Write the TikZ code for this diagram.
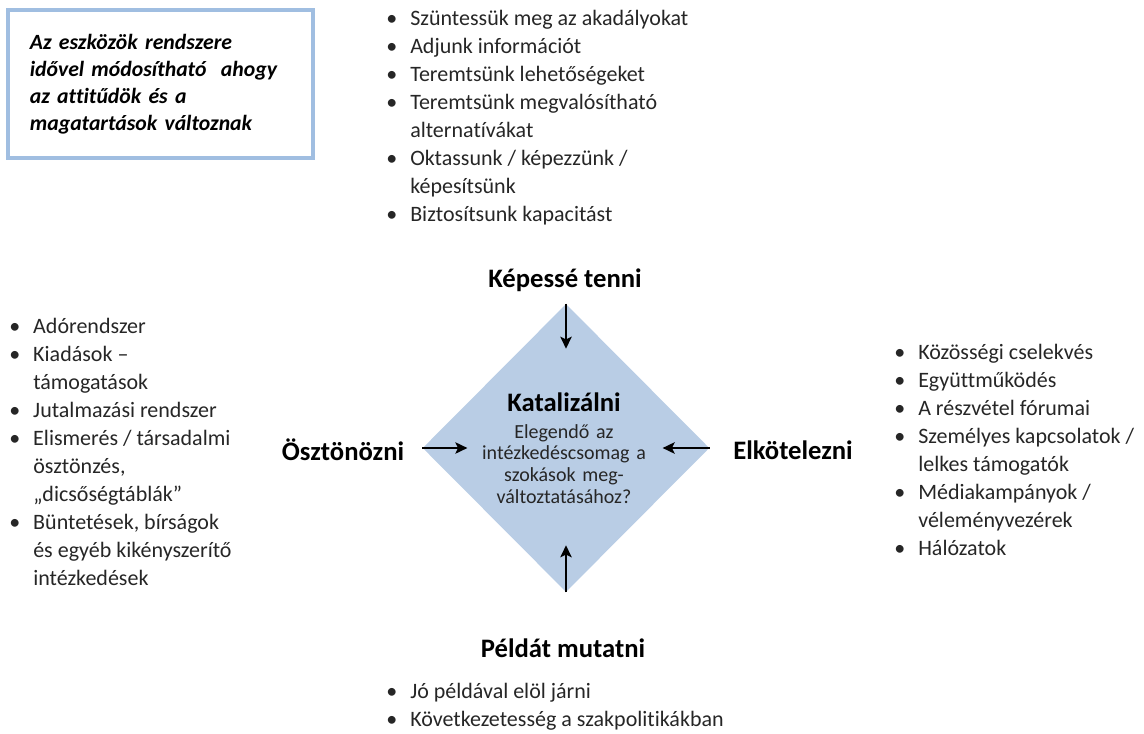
\documentclass[tikz,border=0pt]{standalone}
\usepackage{fontspec}
\setmainfont{Carlito}[Ligatures=NoCommon]
\usetikzlibrary{arrows.meta, positioning, shapes.geometric, calc}
\definecolor{dblue}{RGB}{185,205,229}
\definecolor{bblue}{RGB}{160,190,225}
\newcommand{\itm}[1]{\par\hangindent=18pt\hangafter=1\noindent\makebox[18pt][l]{\textbullet}#1}
\newcommand{\nl}{\hfil\break}
\newcommand{\blist}[1]{\parbox[t]{260pt}{\raggedright\parindent=0pt #1}}

\begin{document}
\begin{tikzpicture}[x=0.75pt, y=-0.75pt,
  lst/.style={inner sep=0pt, anchor=base west,
              font=\fontsize{16.5}{21}\selectfont, text=black!85},
  hd/.style={font=\fontsize{20}{24}\selectfont\bfseries},
  arr/.style={-{Stealth[length=9pt, width=8.5pt, inset=2pt]}, line width=1.5pt}
]
\useasboundingbox (0,0) rectangle (1144,734);

% note box
\node[draw=bblue, line width=2.4pt, minimum width=228.75pt, minimum height=111pt,
      text width=196pt, align=left, inner sep=0pt,
      font=\fontsize{16.3}{20.25}\selectfont\bfseries\itshape] (note) at (160.5,84)
  {Az eszközök rendszere\\idővel módosítható\ \ ahogy\\az attitűdök és a\\magatartások változnak};

% centre
\node[diamond, fill=dblue, aspect=1, inner sep=0pt,
      minimum width=215pt, minimum height=216pt] (kat) at (566,448) {};
\node[text width=160pt, align=center, inner sep=0pt, text=black!85,
      font=\fontsize{15}{16.3}\selectfont] (q) at (564,448)
  {{\fontsize{20}{24}\selectfont\bfseries\color{black} Katalizálni\par}\vspace{4pt}
   Elegendő az\\intézkedéscsomag a\\szokások meg-\\változtatásához?};

% headings
\node[hd] (kep) at (565,280) {Képessé tenni};
\node[hd] (osz) at (343,450) {Ösztönözni};
\node[hd] (elk) at (793,450) {Elkötelezni};
\node[hd] (pel) at (563,648) {Példát mutatni};

% arrows
\coordinate (kn) at ($(kat.north)+(0,45)$);
\coordinate (kw) at ($(kat.west)+(45,0)$);
\coordinate (ke) at ($(kat.east)+(-47,0)$);
\coordinate (ks) at ($(kat.south)+(0,-47)$);
\draw[arr] (kat.north) -- (kn);
\draw[arr] (kat.west)  -- (kw);
\draw[arr] (kat.east)  -- (ke);
\draw[arr] (kat.south) -- (ks);

% lists
\node[lst] (lkep) at (386,26) {\blist{%
  \itm{Szüntessük meg az akadályokat}
  \itm{Adjunk információt}
  \itm{Teremtsünk lehetőségeket}
  \itm{Teremtsünk megvalósítható\nl alternatívákat}
  \itm{Oktassunk / képezzünk /\nl képesítsünk}
  \itm{Biztosítsunk kapacitást}}};
\node[lst] (losz) at (9,333) {\blist{%
  \itm{Adórendszer}
  \itm{Kiadások –\nl támogatások}
  \itm{Jutalmazási rendszer}
  \itm{Elismerés / társadalmi\nl ösztönzés,\nl „dicsőségtáblák”}
  \itm{Büntetések, bírságok\nl és egyéb kikényszerítő\nl intézkedések}}};
\node[lst] (lelk) at (894,359) {\blist{%
  \itm{Közösségi cselekvés}
  \itm{Együttműködés}
  \itm{A részvétel fórumai}
  \itm{Személyes kapcsolatok /\nl lelkes támogatók}
  \itm{Médiakampányok /\nl véleményvezérek}
  \itm{Hálózatok}}};
\node[lst] (lpel) at (386,698) {\blist{%
  \itm{Jó példával elöl járni}
  \itm{Következetesség a szakpolitikákban}}};
\end{tikzpicture}
\end{document}
